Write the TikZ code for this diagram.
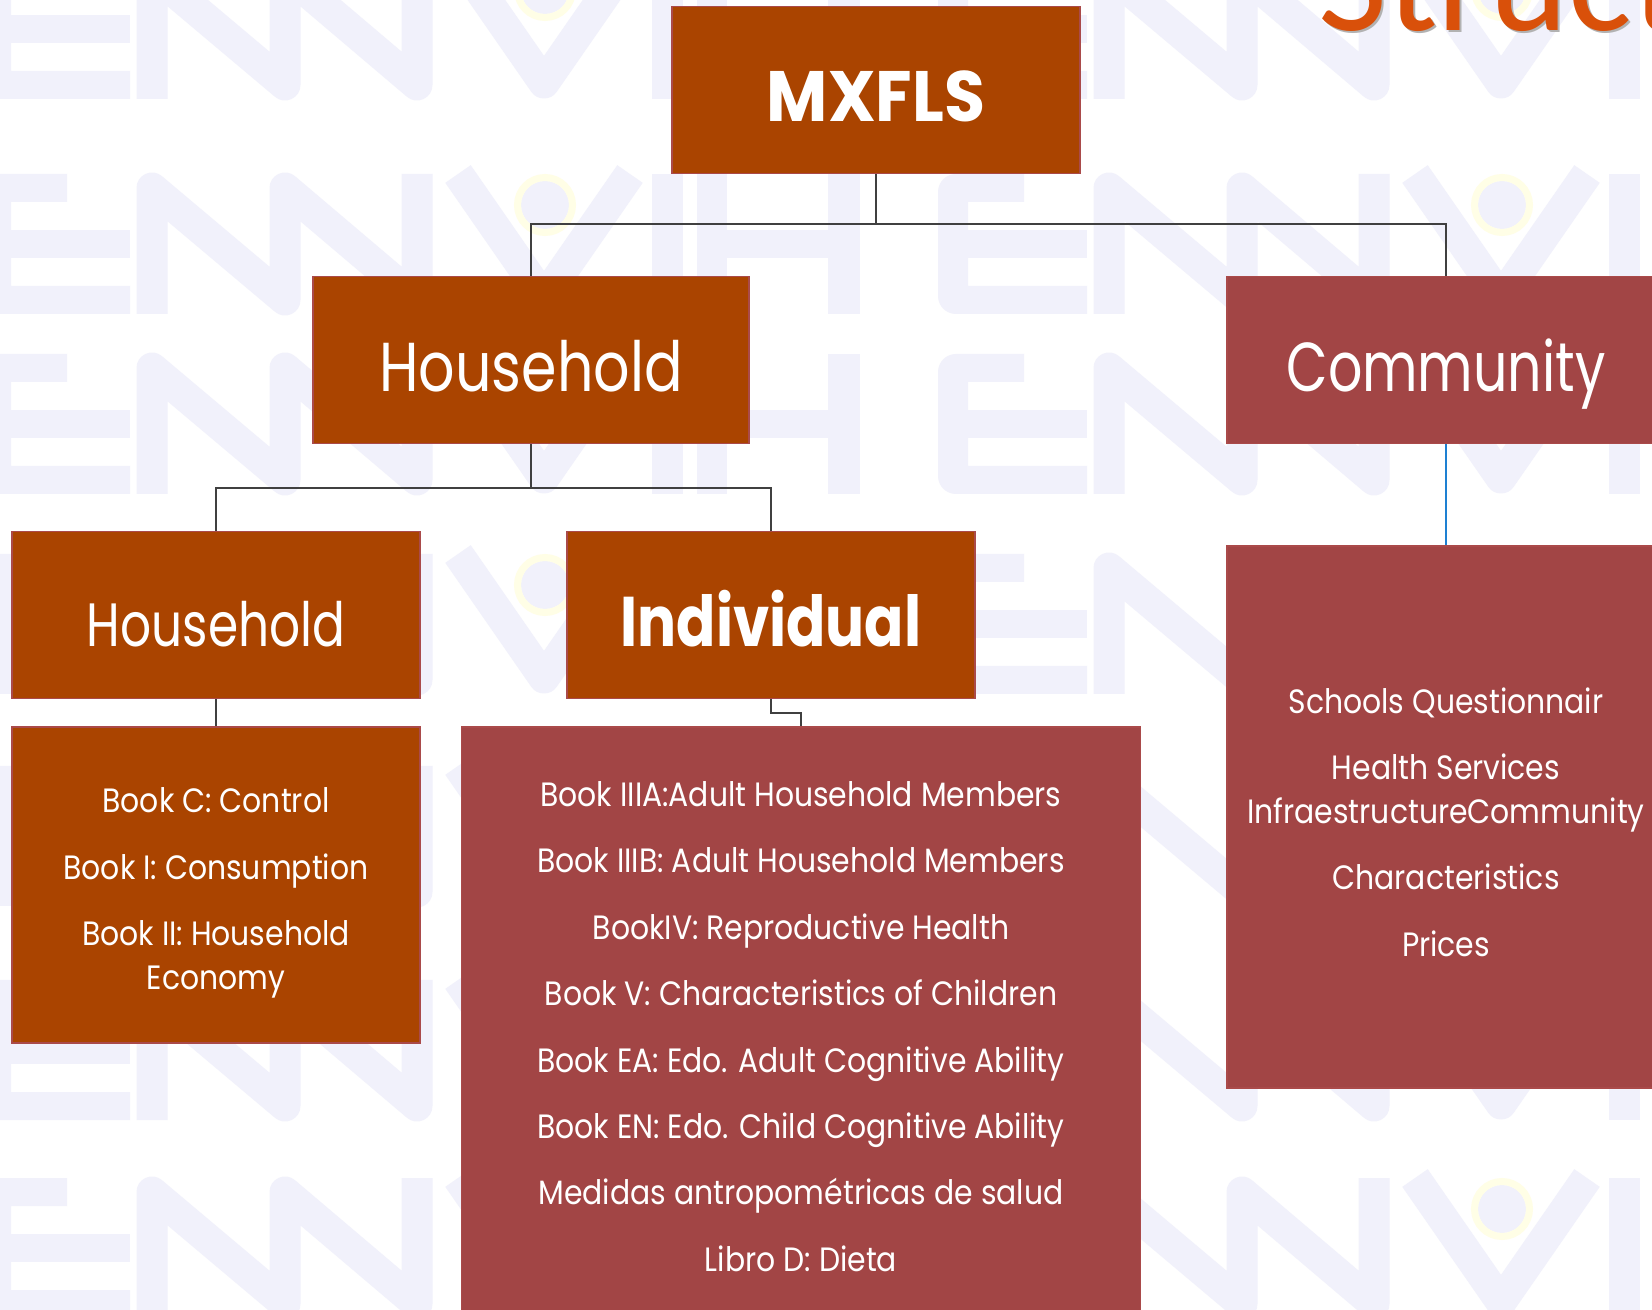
\documentclass[tikz,border=0pt]{standalone}
\usepackage{xcolor}
\usepackage{graphicx}
\usepackage{fontspec}
\setmainfont[FakeStretch=0.85]{Poppins}
\newfontfamily\listfont[FakeStretch=0.885]{Poppins}
\newfontfamily\titlefont{Carlito}
\usepackage{tikz}
\usetikzlibrary{calc}

\definecolor{rust}{RGB}{170,68,0}
\definecolor{brick}{RGB}{162,69,69}
\definecolor{boxedge}{RGB}{170,74,74}
\definecolor{linkgray}{RGB}{64,64,64}
\definecolor{linkblue}{RGB}{30,128,210}
\definecolor{titleorange}{RGB}{217,80,10}
\definecolor{wmlilac}{RGB}{241,241,251}
\definecolor{wmyellow}{RGB}{255,254,230}

\newcommand\squeeze[2]{\scalebox{#1}[1]{#2}}

\tikzset{
  box/.style={draw=boxedge, line width=0.15mm, inner sep=0pt, text=white, align=center},
  headbox/.style={box, minimum width=40.8mm, minimum height=16.7mm, text height=6.4mm, text depth=0mm},
  listbox/.style={box},
  listtext/.style={inner sep=0pt, text=white, align=center, font=\listfont\fontsize{9.6}{12.5}\selectfont},
  link/.style={draw=linkgray, line width=0.2mm},
  wmstroke/.style={draw=wmlilac, line width=3.1mm, line join=round, line cap=butt},
}

\begin{document}
\begin{tikzpicture}[x=0.1mm, y=-0.1mm]
  % Page
  \useasboundingbox (0,0) rectangle (1652,1310);
  \clip (0,0) rectangle (1652,1310);
  \fill[white] (0,0) rectangle (1652,1310);

  % Watermark rows: E N N V I H
  \foreach \oy in {-41,174,354,554,766,980,1178} {
    \foreach \ox in {-19,938} {
      \begin{scope}[shift={(\ox,\oy)}]
        \fill[wmlilac] (86,0) [rounded corners=1.8mm] -- (0,0) -- (0,140) [sharp corners] -- (149,140)
          -- (149,112) -- (30,112) -- (30,28) -- (86,28) -- cycle;
        \fill[wmlilac] (30,56) rectangle (149,84);
        \draw[wmstroke] (171,140) -- (171,14) -- (304,126) -- (304,14) -- (436,126) -- (436,0);
        \draw[wmstroke] (477,0) -- (563,124) -- (649,0);
        \fill[wmlilac] (564,31) circle[radius=2.4mm];
        \draw[wmyellow, line width=0.7mm] (564,31) circle[radius=2.75mm];
        \fill[wmlilac] (671,0) rectangle (702,140);
        \fill[wmlilac] (716,0) rectangle (746,140);
        \fill[wmlilac] (847,0) rectangle (879,140);
        \fill[wmlilac] (746,56) rectangle (847,84);
      \end{scope}
    }
  }

  % Title, only its foot shows
  \node[font=\titlefont\fontsize{42.7}{50}\selectfont, text=black!30, anchor=base west] (titleshadow) at (1308,33) {Structure};
  \node[font=\titlefont\fontsize{42.7}{50}\selectfont, text=titleorange, anchor=base west] (title) at (1306,31) {Structure};

  % Boxes
  \node[headbox, fill=rust, font=\bfseries\fontsize{20.3}{24}\selectfont] (mxfls) at (876,90) {\squeeze{1.1}{MXFLS}};
  \node[headbox, fill=rust, minimum width=43.6mm, font=\fontsize{19.7}{24}\selectfont] (hhsurvey) at (531,360) {\squeeze{0.97}{Household}};
  \node[headbox, fill=brick, minimum width=43.8mm, font=\fontsize{19.7}{24}\selectfont] (community) at (1446,360) {\squeeze{0.915}{Community}};
  \node[headbox, fill=rust, font=\fontsize{17.4}{22}\selectfont] (hhbooks) at (216,615) {\squeeze{0.935}{Household}};
  \node[headbox, fill=rust, font=\bfseries\fontsize{20}{24}\selectfont] (individual) at (771,615) {\squeeze{0.97}{Individual}};

  \node[listbox, fill=rust, minimum width=40.8mm, minimum height=31.6mm] (hhlist) at (216,885) {};
  \node[listtext] (hhlisttext) at ($(hhlist.center)+(0,8)$)
    {Book C: Control\\[6.4pt] Book I: Consumption\\[6.4pt] Book II: Household\\Economy};

  \node[listbox, fill=brick, minimum width=67.9mm, minimum height=59.9mm] (indlist) at (801,1026.5) {};
  \node[listtext] (indlisttext) at (indlist.center)
    {Book IIIA:Adult Household Members\\[6.4pt]
     Book IIIB: Adult Household Members\\[6.4pt]
     BookIV: Reproductive Health\\[6.4pt]
     Book V: Characteristics of Children\\[6.4pt]
     Book EA: Edo. Adult Cognitive Ability\\[6.4pt]
     Book EN: Edo. Child Cognitive Ability\\[6.4pt]
     Medidas antropométricas de salud\\[6.4pt]
     Libro D: Dieta};

  \node[listbox, fill=brick, minimum width=43.8mm, minimum height=54.2mm] (commlist) at (1446,817) {};
  \node[listtext] (commlisttext) at ($(commlist.center)+(0,5)$)
    {Schools Questionnair\\[6.4pt] Health Services\\InfraestructureCommunity\\[6.4pt] Characteristics\\[6.4pt] Prices};

  % Links
  \coordinate (split1) at (876,224);
  \coordinate (split2) at (531,488);
  \draw[link] (mxfls.south) -- (split1) -| (hhsurvey.north);
  \draw[link] (split1) -| (community.north);
  \draw[link] (hhsurvey.south) -- (split2) -| (hhbooks.north);
  \draw[link] (split2) -| (individual.north);
  \draw[link] (hhbooks.south) -- (hhlist.north);
  \draw[link] (individual.south) -- ++(0,14) -| (indlist.north);
  \draw[link, draw=linkblue] (community.south) -- (commlist.north);

\end{tikzpicture}
\end{document}
